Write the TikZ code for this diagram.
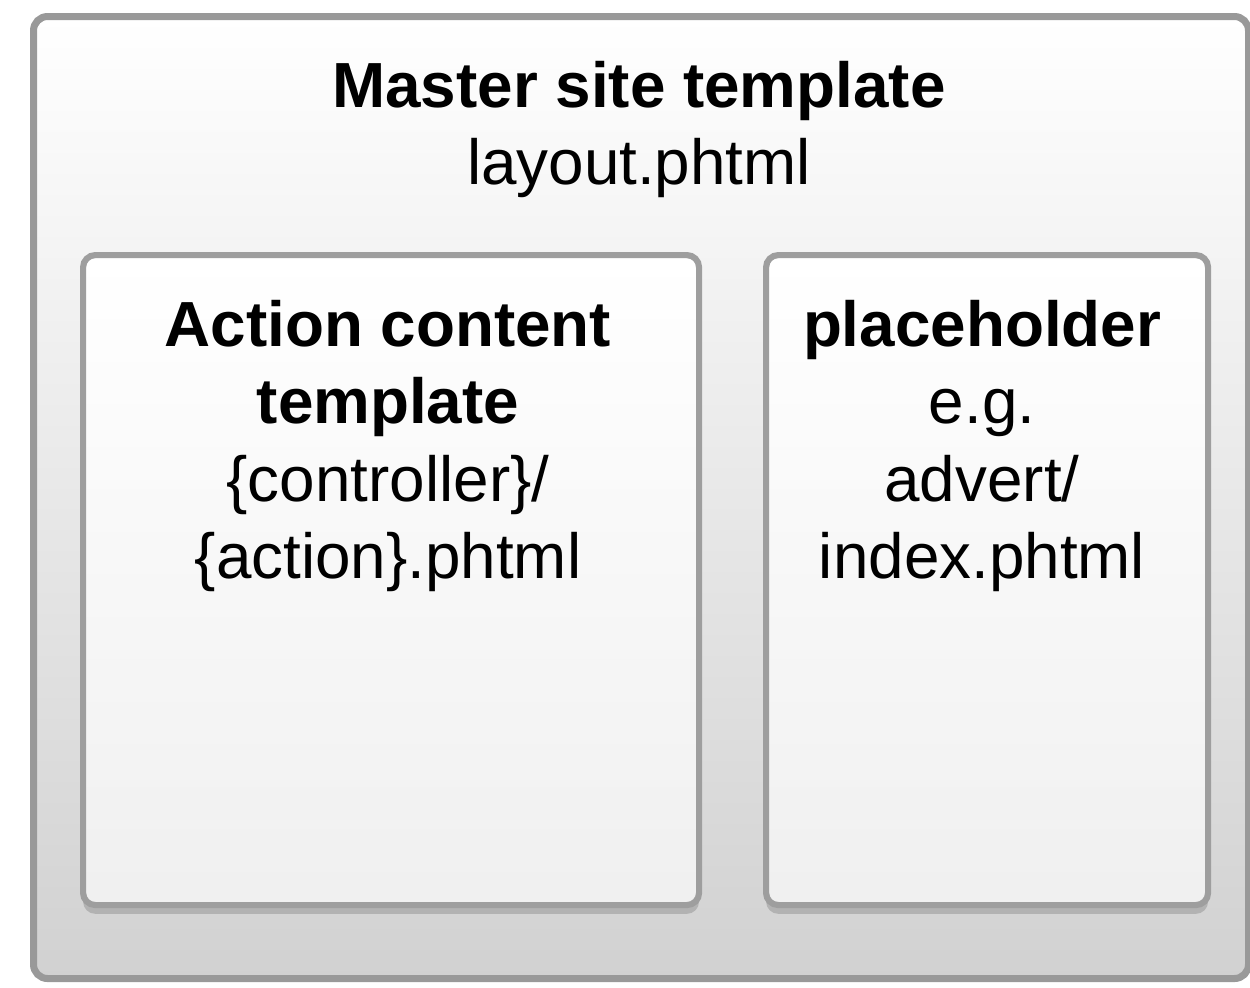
\documentclass[tikz,border=0pt]{standalone}
\usepackage{fontspec}
\setmainfont{Liberation Sans}
\usetikzlibrary{shadows}

\tikzset{
  outerbox/.style={draw=black!40, line width=4pt, rounded corners=8pt,
    top color=white, bottom color=black!18, anchor=north west},
  innerbox/.style={draw=black!38, line width=3.5pt, rounded corners=7pt,
    top color=white, bottom color=black!6, anchor=north west,
    drop shadow={opacity=0.4, shadow xshift=0pt, shadow yshift=-5pt}},
  label/.style={anchor=north, align=center, font=\fontsize{36.3}{44}\selectfont}
}

\begin{document}
\begin{tikzpicture}[x=0.02cm, y=-0.02cm]
\useasboundingbox (0,0) rectangle (1250,987);

% outer frame
\node[outerbox, minimum width=1215*0.02cm, minimum height=962*0.02cm] (master) at (30,13) {};
\node[label] (mastertxt) at (639,55) {\textbf{Master site template}\\layout.phtml};

% the two inner panes
\node[innerbox, minimum width=616*0.02cm, minimum height=650*0.02cm] (action) at (80,252) {};
\node[innerbox, minimum width=442*0.02cm, minimum height=650*0.02cm] (holder) at (763,252) {};

\node[label] (actiontxt) at (388,294) {\textbf{Action content}\\\textbf{template}\\\{controller\}/\\\{action\}.phtml};
\node[label] (holdertxt) at (982,294) {\textbf{placeholder}\\e.g.\\advert/\\index.phtml};
\end{tikzpicture}
\end{document}
